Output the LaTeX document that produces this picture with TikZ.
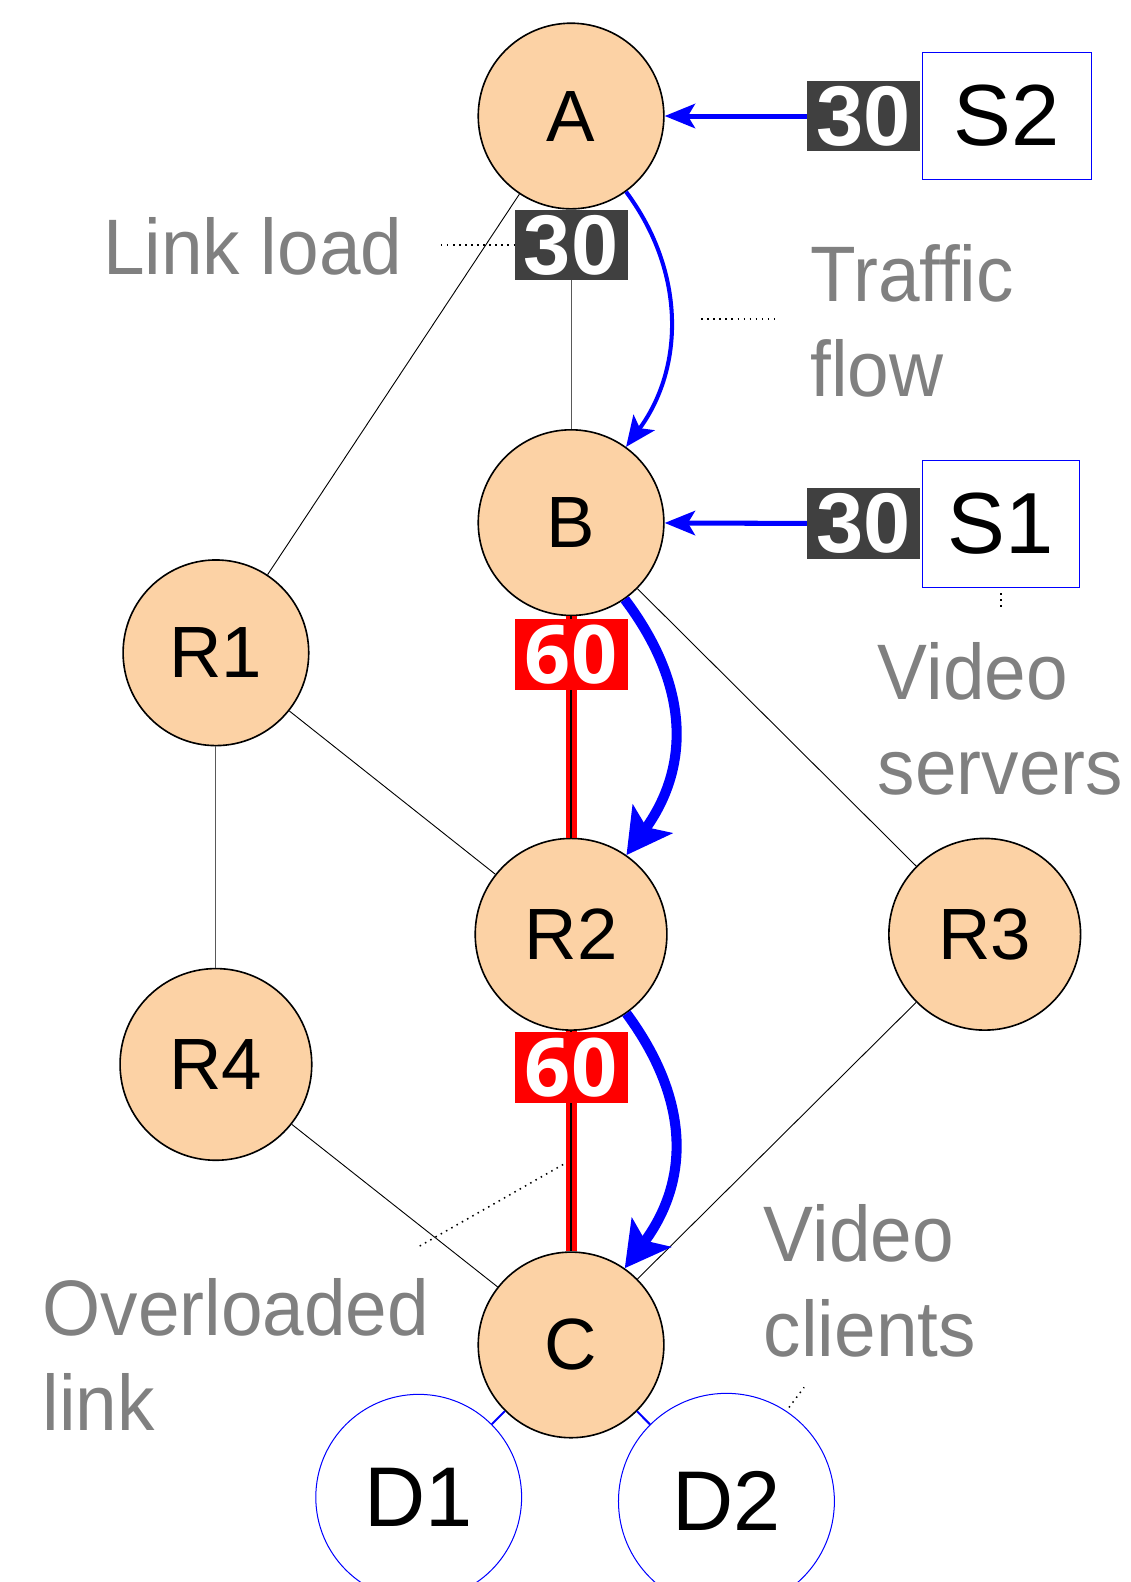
\documentclass[tikz,border=0pt]{standalone}
\usepackage{fontspec}
\setmainfont{Liberation Sans}
\newfontfamily\sixtyfont{Open Sans}
\newfontfamily\notefont{Liberation Sans}[FakeStretch=0.95]
\usetikzlibrary{arrows.meta}
\definecolor{peach}{RGB}{252,210,165}
\definecolor{darkbox}{RGB}{64,64,64}
\definecolor{labelgrey}{RGB}{128,128,128}
\begin{document}
\begin{tikzpicture}[x=1pt,y=1pt,
 router/.style={circle,draw=black,line width=1.6pt,fill=peach,inner sep=0pt,font=\fontsize{72}{72}\selectfont},
 server/.style={rectangle,draw=blue,line width=1pt,inner sep=0pt,font=\fontsize{86}{86}\selectfont},
 client/.style={circle,draw=blue,line width=1pt,inner sep=0pt,font=\fontsize{84}{84}\selectfont},
 loadbox/.style={rectangle,fill=darkbox,text=white,minimum width=112pt,minimum height=70pt,inner sep=0pt,font=\fontsize{84}{84}\selectfont\bfseries},
 overbox/.style={rectangle,fill=red,text=white,minimum width=112pt,minimum height=70pt,inner sep=0pt,font=\sixtyfont\bfseries\fontsize{80}{80}\selectfont},
 link/.style={draw=black,line width=0.9pt},
 greylink/.style={draw=black!65,line width=0.9pt},
 feed/.style={draw=blue,line width=5pt,-{Stealth[length=30pt,width=24pt,inset=7pt]}},
 flowthin/.style={draw=blue,line width=4pt,-{Stealth[length=30pt,width=26pt,inset=7pt]}},
 flowthick/.style={draw=blue,line width=10pt,-{Stealth[length=44pt,width=48pt,inset=10pt]}},
 callout/.style={draw=black,line width=1.5pt,dash pattern=on 1.5pt off 4.5pt},
 note/.style={text=labelgrey,inner sep=0pt,font=\notefont\fontsize{78}{94}\selectfont,align=left},
]
\useasboundingbox (0,0) rectangle (1120,-1568);
\clip (0,0) rectangle (1120,-1568);

% nodes
\node[router,minimum size=184pt] (A) at (566,-115) {A};
\node[router,minimum size=184pt] (B) at (566,-518) {B};
\node[router,minimum size=184pt] (R1) at (214,-647) {R1};
\node[router,minimum size=190pt] (R2) at (566,-926) {R2};
\node[router,minimum size=190pt] (R3) at (976,-926) {R3};
\node[router,minimum size=190pt] (R4) at (214,-1055) {R4};
\node[router,minimum size=184pt] (C) at (566,-1333) {C};
\node[client,minimum size=204pt] (D1) at (415,-1484) {D1};
\node[client,minimum size=214pt] (D2) at (720,-1488) {D2};
\node[server,minimum width=168pt,minimum height=126pt] (S2) at (998,-115) {S2};
\node[server,minimum width=156pt,minimum height=126pt] (S1) at (992,-519) {S1};

% links
\draw[greylink] (A) -- (B);
\draw[link] (A) -- (R1);
\draw[link] (R1) -- (R2);
\draw[greylink] (R1) -- (R4);
\draw[link] (B) -- (R3);
\draw[link] (R4) -- (C);
\draw[link] (R3) -- (C);
\draw[red,line width=11pt] (B) -- (R2);
\draw[black,line width=1.2pt] (B) -- (R2);
\draw[red,line width=11pt] (R2) -- (C);
\draw[black,line width=1.2pt] (R2) -- (C);
\draw[blue,line width=2pt] (C) -- (D1);
\draw[blue,line width=2pt] (C) -- (D2);

% load labels
\node[loadbox] (LAB) at (566,-243) {30};
\node[loadbox] (LS2) at (856,-115) {30};
\node[loadbox] (LS1) at (856,-519) {30};
\node[overbox] (LBR) at (566,-649) {60};
\node[overbox] (LRC) at (566,-1058) {60};

% feeds from servers
\draw[feed] (LS2) -- (A);
\draw[feed] (LS1) -- (B);

% traffic flow
\draw[flowthin] (A.-54) .. controls (680,-270) and (678,-365) .. (B.54);
\draw[flowthick] (B.-55) .. controls (684,-680) and (684,-760) .. (R2.55);
\draw[flowthick] (R2.-55) .. controls (684,-1090) and (684,-1170) .. (C.55);

% callouts
\coordinate (ll1) at (437,-243);
\draw[callout] (ll1) -- (LAB.west);
\coordinate (tf1) at (695,-316);
\coordinate (tf2) at (770,-316);
\draw[callout] (tf1) -- (tf2);
\coordinate (vs1) at (992,-588);
\coordinate (vs2) at (992,-604);
\draw[callout] (vs1) -- (vs2);
\coordinate (ol1) at (416,-1235);
\coordinate (ol2) at (562,-1152);
\draw[callout] (ol1) -- (ol2);
\coordinate (vc1) at (782,-1395);
\coordinate (vc2) at (797,-1375);
\draw[callout] (vc1) -- (vc2);

% notes
\node[note,anchor=base west] (tLL) at (102,-272) {Link load};
\node[note,anchor=north west] (tTF) at (803,-242) {Traffic\\flow};
\node[note,anchor=north west] (tVS) at (870,-637) {Video\\servers};
\node[note,anchor=north west] (tOL) at (42,-1267) {Overloaded\\link};
\node[note,anchor=north west] (tVC) at (757,-1194) {Video\\clients};
\end{tikzpicture}
\end{document}
